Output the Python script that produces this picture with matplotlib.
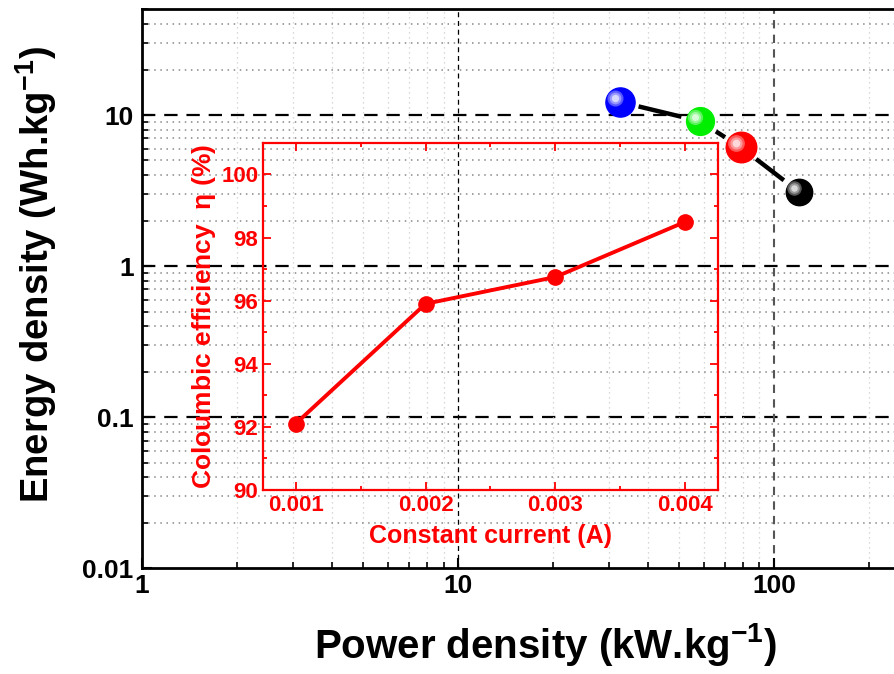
import numpy as np
import matplotlib
matplotlib.use("Agg")
import matplotlib.pyplot as plt
from matplotlib.transforms import offset_copy
from matplotlib.ticker import LogLocator, NullFormatter, FixedLocator, MultipleLocator

plt.rcParams["font.family"] = ["Liberation Sans", "DejaVu Sans"]
plt.rcParams["font.weight"] = "bold"
plt.rcParams["mathtext.fontset"] = "custom"
plt.rcParams["mathtext.rm"] = "Liberation Sans:bold"
plt.rcParams["mathtext.bf"] = "Liberation Sans:bold"
plt.rcParams["mathtext.it"] = "Liberation Sans"

# datos principales (Ragone)
power = [32.6, 58.3, 78.7, 120.0]
energy = [12.2, 9.1, 6.1, 3.1]
colores = ["#0000ff", "#00ee00", "#ff0000", "#000000"]
tamanos = [21, 20, 22, 19]

# datos del inset
corriente = [0.001, 0.002, 0.003, 0.004]
eficiencia = [92.1, 95.9, 96.75, 98.5]

fig = plt.figure(figsize=(8.95, 6.74), dpi=100)
ax = fig.add_axes([0.1587, 0.157, 1.059, 0.829])
ax.set_xscale("log")
ax.set_yscale("log")
ax.set_xlim(1, 1000)
ax.set_ylim(0.01, 50)

# grilla
ax.yaxis.set_major_locator(FixedLocator([0.01, 0.1, 1, 10]))
ax.yaxis.set_minor_locator(LogLocator(base=10, subs=np.arange(2, 10)))
ax.xaxis.set_major_locator(FixedLocator([1, 10, 100]))
ax.xaxis.set_minor_locator(LogLocator(base=10, subs=np.arange(2, 10)))
ax.yaxis.set_minor_formatter(NullFormatter())
ax.xaxis.set_minor_formatter(NullFormatter())
ax.set_yticklabels(["0.01", "0.1", "1", "10"])
ax.set_xticklabels(["1", "10", "100"])

for yv in [0.1, 1, 10]:
    ax.axhline(yv, color="black", lw=1.6, ls=(0, (6, 4)), zorder=1)
ax.axvline(10, color="black", lw=0.9, ls=(0, (4, 3)), zorder=1)
ax.axvline(100, color="#555555", lw=1.5, ls=(0, (4, 3)), zorder=1)
ax.grid(True, which="minor", axis="y", color="#888888", lw=1.1, ls=(0, (1, 3)), zorder=0)
ax.grid(True, which="minor", axis="x", color="#cccccc", lw=0.9, ls=(0, (1, 3)), zorder=0)

ax.tick_params(axis="both", which="major", direction="in", length=7, width=1.5,
               labelsize=19, pad=6)
ax.tick_params(axis="both", which="minor", direction="in", length=4, width=1.2)
ax.tick_params(axis="x", which="major", pad=4)
for sp in ax.spines.values():
    sp.set_linewidth(2)

ax.set_xlabel("Power density (kW.kg$^{-1}$)", fontsize=29, fontweight="bold")
ax.set_ylabel("Energy density (Wh.kg$^{-1}$)", fontsize=27.5, fontweight="bold")
ax.xaxis.set_label_coords(0.5 * 0.845 / 1.059 + 0.027, -0.095)
ax.yaxis.set_label_coords(-0.088, 0.525)

# linea con huecos junto a los marcadores
fig.canvas.draw()
pts = ax.transData.transform(np.column_stack([power, energy]))
hueco = 19
for i in range(len(pts) - 1):
    a, b = pts[i], pts[i + 1]
    d = b - a
    u = d / np.hypot(*d)
    p0 = ax.transData.inverted().transform(a + u * hueco)
    p1 = ax.transData.inverted().transform(b - u * hueco)
    ax.plot([p0[0], p1[0]], [p0[1], p1[1]], color="black", lw=3.2, solid_capstyle="butt", zorder=3)

# esferas
for x, y, c, s in zip(power, energy, colores, tamanos):
    ax.plot(x, y, "o", color=c, ms=s, mec=c, zorder=4)
    base = np.array(matplotlib.colors.to_rgb(c))
    tr = offset_copy(ax.transData, fig=fig, x=-5, y=4, units="dots")
    for k, frac in enumerate([0.35, 0.6, 0.85]):
        col = base + (1 - base) * frac
        ax.plot(x, y, "o", color=col, ms=s * (0.55 - 0.15 * k), mec="none", transform=tr, zorder=5 + k)

# inset
ins = fig.add_axes([0.294, 0.273, 0.508, 0.515])
ins.patch.set_alpha(0)
ins.plot(corriente, eficiencia, "-o", color="red", lw=2.8, ms=11)
ins.set_xlim(0.00075, 0.00425)
ins.set_ylim(90, 101)
ins.xaxis.set_major_locator(FixedLocator(corriente))
ins.xaxis.set_minor_locator(MultipleLocator(0.0005))
ins.yaxis.set_major_locator(MultipleLocator(2))
ins.yaxis.set_minor_locator(MultipleLocator(1))
ins.set_xticklabels(["0.001", "0.002", "0.003", "0.004"])
ins.tick_params(axis="both", which="both", direction="in", colors="red", labelcolor="red",
                top=True, right=True, width=1.3)
ins.tick_params(which="major", length=6, labelsize=16)
ins.tick_params(which="minor", length=3)
for sp in ins.spines.values():
    sp.set_color("red")
    sp.set_linewidth(1.6)
ins.set_xlabel("Constant current (A)", color="red", fontsize=18, fontweight="bold", labelpad=6)
ins.set_ylabel("Coloumbic efficiency  $\\eta$ (%)", color="red", fontsize=19, fontweight="bold", labelpad=2)

fig.savefig("out.png", dpi=100)
